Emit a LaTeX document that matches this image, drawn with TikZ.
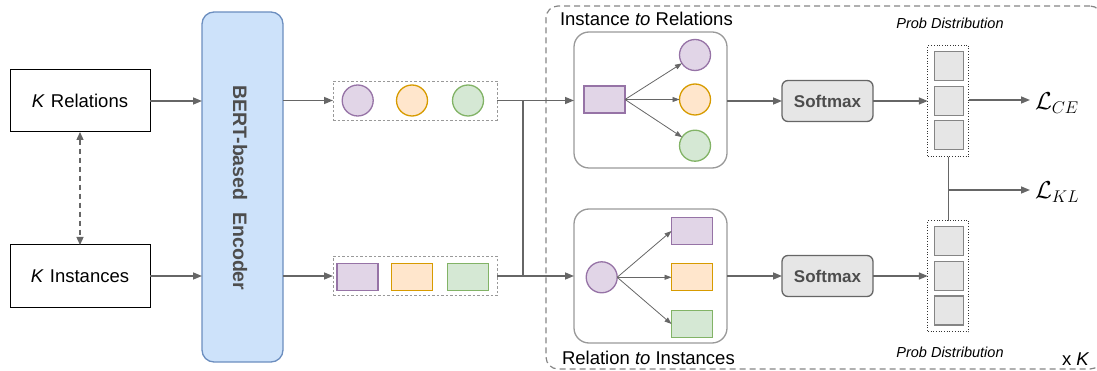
\documentclass[tikz,border=0pt]{standalone}
\usepackage{fontspec}
\setmainfont{Liberation Sans}
\usetikzlibrary{arrows.meta}
\definecolor{lineg}{HTML}{666666}
\definecolor{boxg}{HTML}{999999}
\definecolor{softg}{HTML}{E6E6E6}
\definecolor{encfill}{HTML}{CDE2FA}
\definecolor{encdraw}{HTML}{6C8EBF}
\definecolor{enctext}{HTML}{4D4D4D}
\definecolor{purf}{HTML}{E1D5E7}
\definecolor{purd}{HTML}{9673A6}
\definecolor{oraf}{HTML}{FFE6CC}
\definecolor{orad}{HTML}{D79B00}
\definecolor{gref}{HTML}{D5E8D4}
\definecolor{gred}{HTML}{82B366}
\begin{document}
\begin{tikzpicture}[x=1pt,y=-1pt,
  every node/.style={inner sep=0pt, outer sep=0pt},
  bigfont/.style={font=\fontsize{18.5}{22}\selectfont},
  plainbox/.style={draw=black, line width=1pt, minimum width=140pt, minimum height=62pt, bigfont},
  encbox/.style={draw=encdraw, fill=encfill, line width=1.3pt, rounded corners=12pt, minimum width=81pt, minimum height=350pt},
  enclabel/.style={font=\fontsize{19.5}{22}\selectfont\bfseries, text=enctext},
  embbox/.style={draw=boxg, line width=0.8pt, dash pattern=on 2.5pt off 2pt, minimum width=164pt, minimum height=39pt},
  dotc/.style={circle, line width=1.3pt, minimum size=31pt},
  reccell/.style={rectangle, line width=1.3pt, minimum width=41pt, minimum height=27pt},
  pur/.style={fill=purf, draw=purd},
  ora/.style={fill=oraf, draw=orad},
  gre/.style={fill=gref, draw=gred},
  innerbox/.style={draw=boxg, line width=1.3pt, rounded corners=15pt, minimum width=153pt},
  softbox/.style={draw=lineg, fill=softg, line width=1.3pt, rounded corners=6pt, minimum width=91pt, minimum height=41pt, font=\fontsize{17}{20}\selectfont\bfseries, text=enctext},
  probbox/.style={draw=black!80, line width=0.7pt, dotted, minimum width=41pt, minimum height=111pt},
  probcell/.style={draw=lineg!80!white, fill=softg, line width=1.3pt, minimum width=29pt, minimum height=29pt},
  problabel/.style={font=\fontsize{14.5}{17}\selectfont\itshape},
  outerloop/.style={draw=lineg!80!white, line width=1.2pt, dash pattern=on 6pt off 4pt, rounded corners=12pt, minimum width=556pt, minimum height=363pt},
  conn/.style={draw=lineg, line width=1.5pt},
  arr/.style={conn, -{Triangle[length=9pt,width=7pt]}},
  thinarr/.style={draw=lineg, line width=0.8pt, -{Triangle[length=7pt,width=5pt]}},
  dasharr/.style={draw=lineg, line width=1.3pt, dash pattern=on 5pt off 4pt, {Triangle[length=8pt,width=7pt]}-{Triangle[length=8pt,width=7pt]}},
  lossfont/.style={font=\huge}
]
\useasboundingbox (0,0) rectangle (1097,371);

% outer loop region (its right edge runs past the page)
\node[outerloop] (loop) at (824,187.5) {};

% inputs
\node[plainbox] (rel) at (80,101) {\textit{K}\hspace{6pt}Relations};
\node[plainbox] (ins) at (80,276) {\textit{K}\hspace{6pt}Instances};
\draw[dasharr] (rel.south) -- (ins.south |- ins.north);

% encoder
\node[encbox] (enc) at (242.5,187) {};
\node[enclabel, rotate=-90] (enctxt) at (240,188) {BERT-based\hspace{12pt}Encoder};

\draw[arr] (rel.east) -- (rel.east -| enc.west);
\draw[arr] (ins.east) -- (ins.east -| enc.west);

% embeddings
\node[embbox] (relemb) at (415,100.5) {};
\node[dotc, pur] (e1) at (357.7,100.5) {};
\node[dotc, ora] (e2) at (412,100.5) {};
\node[dotc, gre] (e3) at (468,100.5) {};

\node[embbox] (insemb) at (415,276) {};
\node[reccell, pur] (f1) at (357.5,277) {};
\node[reccell, ora] (f2) at (412,277) {};
\node[reccell, gre] (f3) at (468.3,277) {};

\draw[arr] (enc.east |- relemb.west) -- (relemb.west);
\draw[arr] (enc.east |- insemb.west) -- (insemb.west);

% instance to relations
\node[innerbox, minimum height=136pt] (upbox) at (650.5,100) {};
\node[anchor=west, bigfont] (uptitle) at (560,19) {Instance \textit{to} Relations};
\node[reccell, pur] (q1) at (604.5,99.5) {};
\node[dotc, pur] (c1) at (695,55) {};
\node[dotc, ora] (c2) at (695,99.5) {};
\node[dotc, gre] (c3) at (695,145.7) {};
\draw[thinarr] (q1.east) -- (c1);
\draw[thinarr] (q1.east) -- (c2);
\draw[thinarr] (q1.east) -- (c3);

% relation to instances
\node[innerbox, minimum height=134pt] (lowbox) at (650.5,276) {};
\node[anchor=west, bigfont] (lowtitle) at (562,358) {Relation \textit{to} Instances};
\node[dotc, pur] (q2) at (601.7,277.3) {};
\node[reccell, pur] (r1) at (692,231) {};
\node[reccell, ora] (r2) at (692,277.3) {};
\node[reccell, gre] (r3) at (692,324) {};
\draw[thinarr] (q2.east) -- (r1.west);
\draw[thinarr] (q2.east) -- (r2.west);
\draw[thinarr] (q2.east) -- (r3.west);

% routing between the embeddings and both branches
\coordinate (j1) at (523,100.5);
\coordinate (j2) at (523,276);
\draw[arr] (relemb.east) -- (relemb.east -| upbox.west);
\draw[arr] (insemb.east) -- (insemb.east -| lowbox.west);
\draw[conn] (j1) -- (j2);

% softmax
\node[softbox] (sm1) at (827.5,101) {Softmax};
\node[softbox] (sm2) at (827.5,276) {Softmax};
\draw[arr] (upbox.east |- sm1.west) -- (sm1.west);
\draw[arr] (lowbox.east |- sm2.west) -- (sm2.west);

% probability distributions
\node[probbox] (pd1) at (948.3,101.2) {};
\node[probcell] (p11) at (948.8,66.3) {};
\node[probcell] (p12) at (948.8,100.8) {};
\node[probcell] (p13) at (948.8,134.7) {};
\node[problabel] (pl1) at (950,23) {Prob Distribution};

\node[probbox] (pd2) at (948.3,276.2) {};
\node[probcell] (p21) at (948.8,241.3) {};
\node[probcell] (p22) at (948.8,276.3) {};
\node[probcell] (p23) at (948.8,310.5) {};
\node[problabel] (pl2) at (950,352) {Prob Distribution};

\draw[arr] (sm1.east) -- (sm1.east -| pd1.west);
\draw[arr] (sm2.east) -- (sm2.east -| pd2.west);

% losses
\node[lossfont, anchor=west] (lce) at (1035,103) {\scalebox{1.18}{$\mathcal{L}_{CE}$}};
\node[lossfont, anchor=west] (lkl) at (1035,192) {\scalebox{1.18}{$\mathcal{L}_{KL}$}};
\coordinate (kj) at (948.3,190);
\draw[arr] (pd1.east |- 0,100) -- (1030,100);
\draw[conn] (pd1.south) -- (pd2.north);
\draw[arr] (kj) -- (1030,190);

% repetition count
\node[bigfont, anchor=west] (rep) at (1062,359) {x \textit{K}};
\end{tikzpicture}
\end{document}
